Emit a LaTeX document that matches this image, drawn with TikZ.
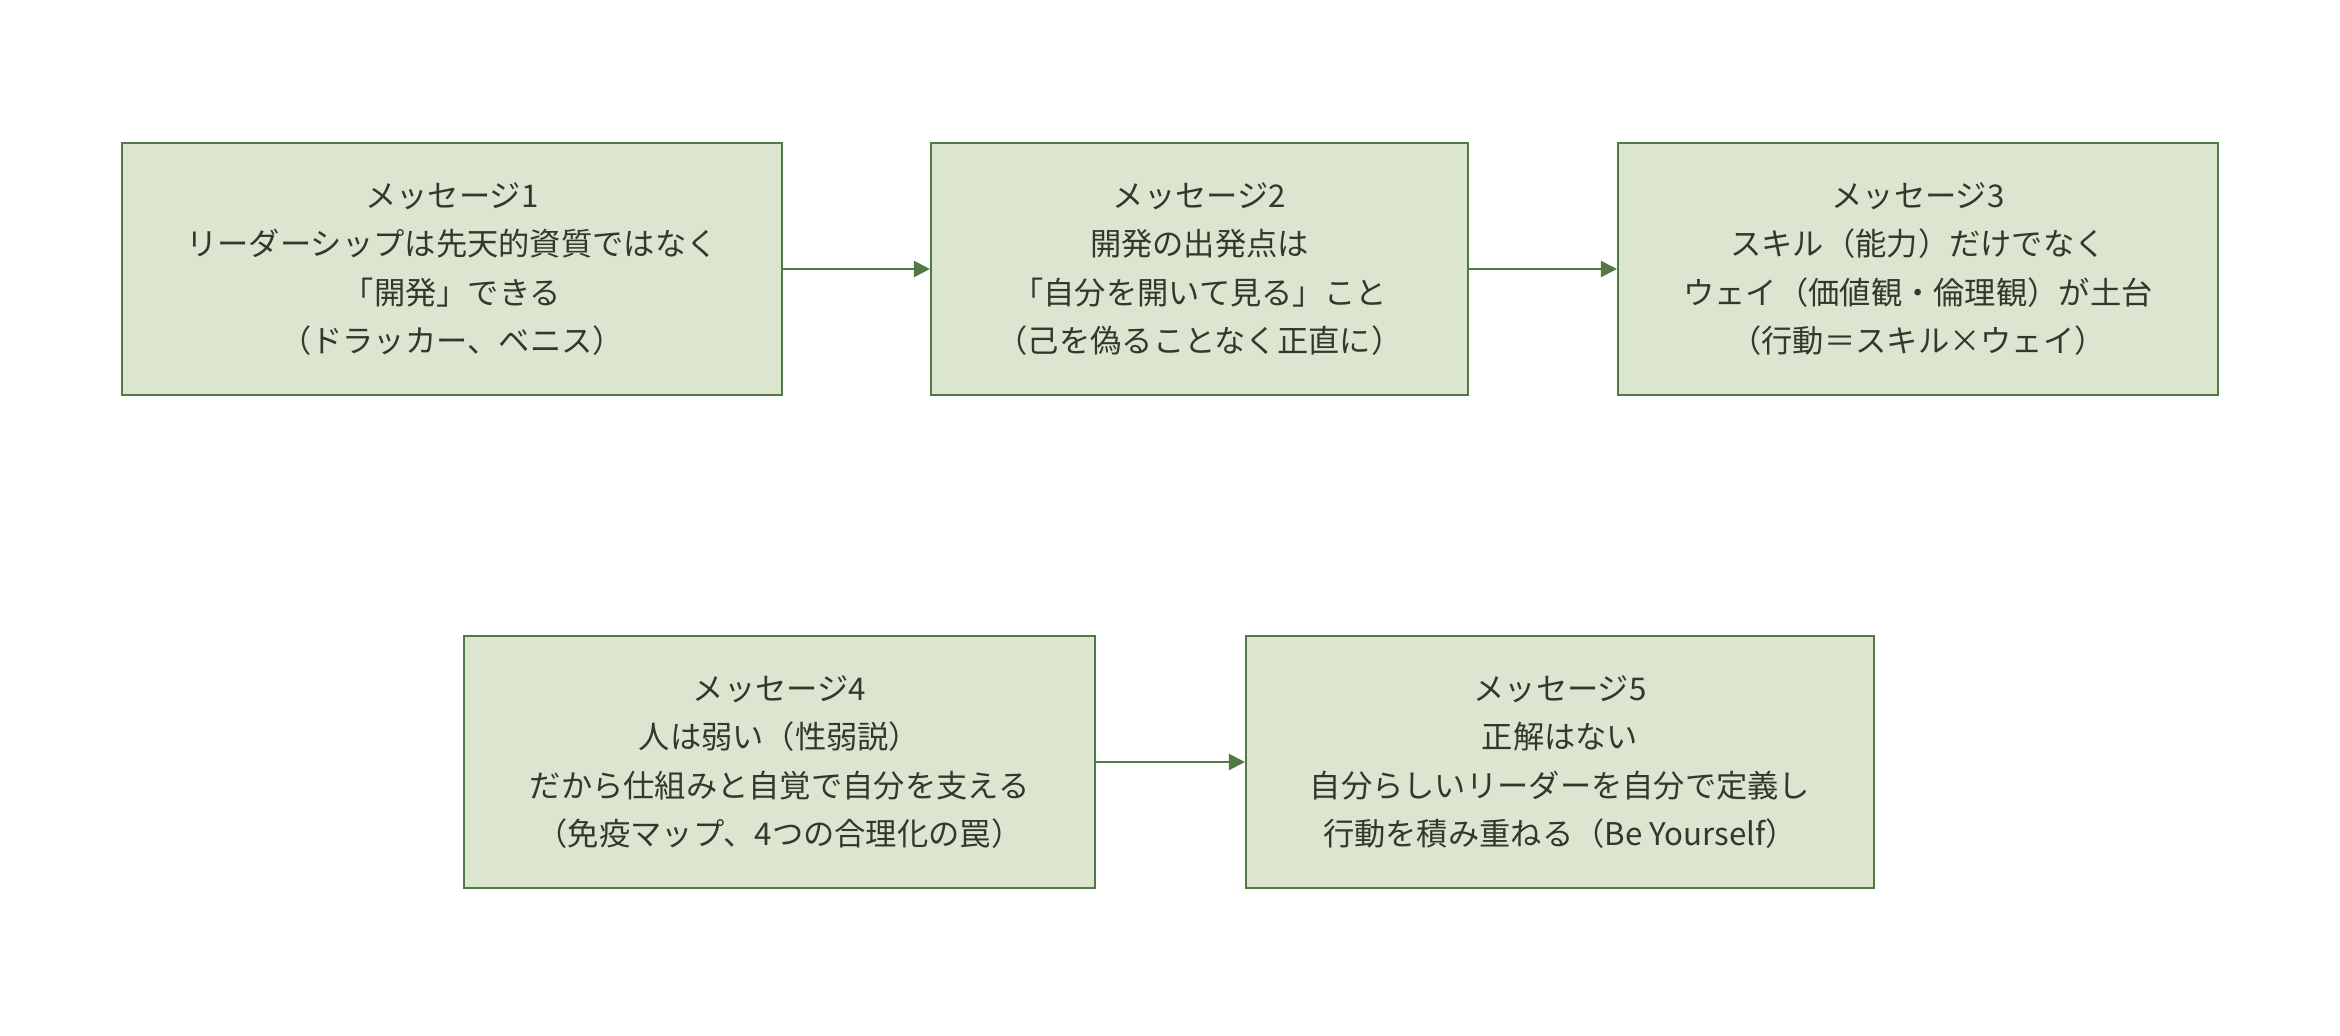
\documentclass[tikz,border=0pt]{standalone}
\usepackage{fontspec}
\newfontfamily\cjk{Noto Sans CJK JP}
\usetikzlibrary{arrows.meta}

\definecolor{msgfill}{HTML}{DCE5D0}
\definecolor{msgline}{HTML}{527846}
\definecolor{msgtext}{HTML}{303A2B}

\tikzset{
  msgbox/.style={draw=msgline, fill=msgfill, line width=0.6pt, align=center,
    text=msgtext, minimum height=2.52cm, inner sep=0pt,
    font={\cjk\fontsize{8.9}{13.8}\selectfont}},
  msgarrow/.style={draw=msgline, line width=0.6pt,
    -{Triangle[length=0.16cm,width=0.16cm]}}
}

\begin{document}
\begin{tikzpicture}
   \useasboundingbox (0,0) rectangle (23.4,-10.36);

   % upper row
   \node[msgbox, minimum width=6.60cm] (m1) at (4.52,-2.69)
      {メッセージ1\\リーダーシップは先天的資質ではなく\\「開発」できる\\（ドラッカー、ベニス）};
   \node[msgbox, minimum width=5.37cm] (m2) at (11.995,-2.69)
      {メッセージ2\\開発の出発点は\\「自分を開いて見る」こと\\（己を偽ることなく正直に）};
   \node[msgbox, minimum width=6.00cm] (m3) at (19.18,-2.69)
      {メッセージ3\\スキル（能力）だけでなく\\ウェイ（価値観・倫理観）が土台\\（行動＝スキル×ウェイ）};

   % lower row
   \node[msgbox, minimum width=6.31cm] (m4) at (7.795,-7.62)
      {メッセージ4\\人は弱い（性弱説）\\だから仕組みと自覚で自分を支える\\（免疫マップ、4つの合理化の罠）};
   \node[msgbox, minimum width=6.28cm] (m5) at (15.60,-7.62)
      {メッセージ5\\正解はない\\自分らしいリーダーを自分で定義し\\行動を積み重ねる（Be Yourself）};

   \draw[msgarrow] (m1) -- (m2);
   \draw[msgarrow] (m2) -- (m3);
   \draw[msgarrow] (m4) -- (m5);

\end{tikzpicture}
\end{document}
